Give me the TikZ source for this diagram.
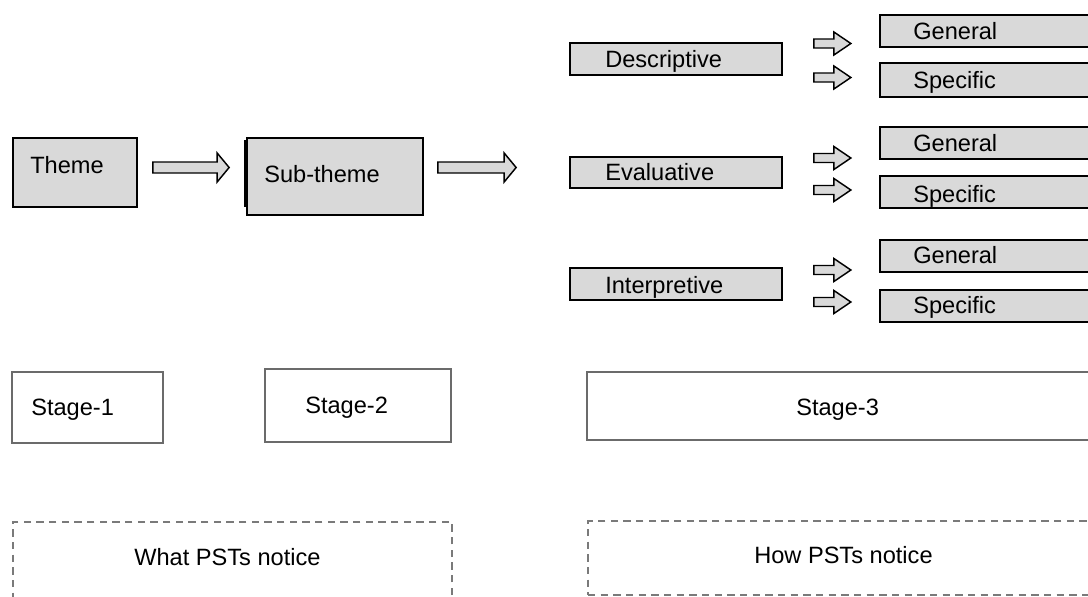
\documentclass[tikz,border=0pt]{standalone}
\usepackage{fontspec}
\setmainfont{Liberation Sans}
\usetikzlibrary{calc}
\definecolor{boxgray}{HTML}{D9D9D9}
\definecolor{edgegray}{HTML}{6B6B6B}
\definecolor{dashgray}{HTML}{7A7A7A}
\tikzset{
  graybox/.style={draw=black, line width=1.3pt, fill=boxgray, inner sep=0pt},
  stagebox/.style={draw=edgegray, line width=1.3pt, fill=white, inner sep=0pt},
  dashbox/.style={draw=dashgray, line width=1.1pt, dash pattern=on 5.5pt off 4pt, inner sep=0pt},
  lbl/.style={anchor=base west, inner sep=0pt, font=\fontsize{17.7}{21}\selectfont},
  blockarrow/.style={draw=black, line width=1.1pt, fill=boxgray, line join=miter},
  sz/.style 2 args={minimum width=#1*0.75pt, minimum height=#2*0.75pt}
}
% #1 start coord, #2 tip coord, #3 shaft half height, #4 head half height, #5 head length
\newcommand\blockarr[5]{%
  \draw[blockarrow] ($(#1)+(0,-#3)$) -- ($(#2)+(-#5,-#3)$) -- ($(#2)+(-#5,-#4)$) -- (#2)
    -- ($(#2)+(-#5,#4)$) -- ($(#2)+(-#5,#3)$) -- ($(#1)+(0,#3)$) -- cycle;}
\begin{document}
\begin{tikzpicture}[x=0.75pt, y=-0.75pt]
\useasboundingbox (0,0) rectangle (1088,596);
\clip (0,0) rectangle (1088,596);
% Stage 1 / 2 boxes
\node[graybox, sz={124}{69}] (theme) at (75,172.5) {};
\node[lbl] (themet) at (30,173) {Theme};
\node[graybox, sz={176}{77}] (sub) at (335,176.5) {};
\draw[line width=1.6pt] ($(sub.north west)+(-1.5,3)$) -- ($(sub.south west)+(-1.5,-9)$);
\node[lbl] (subt) at (264,182) {Sub-theme};
% Stage 3 categories
\node[graybox, sz={212}{32}] (desc) at (676,59) {};
\node[lbl] (desct) at (605,67) {Descriptive};
\node[graybox, sz={212}{31}] (eval) at (676,172.5) {};
\node[lbl] (evalt) at (605,180) {Evaluative};
\node[graybox, sz={212}{32}] (interp) at (676,284) {};
\node[lbl] (interpt) at (605,293) {Interpretive};
% General / Specific
\node[graybox, sz={220}{32}] (gen1) at (990,31) {};
\node[lbl] (gen1t) at (913,39) {General};
\node[graybox, sz={220}{34}] (spe1) at (990,80) {};
\node[lbl] (spe1t) at (913,88) {Specific};
\node[graybox, sz={220}{32}] (gen2) at (990,143) {};
\node[lbl] (gen2t) at (913,151) {General};
\node[graybox, sz={220}{32}] (spe2) at (990,192) {};
\node[lbl] (spe2t) at (913,202) {Specific};
\node[graybox, sz={220}{32}] (gen3) at (990,256) {};
\node[lbl] (gen3t) at (913,263) {General};
\node[graybox, sz={220}{32}] (spe3) at (990,306) {};
\node[lbl] (spe3t) at (913,313) {Specific};
% big block arrows
\coordinate (a1s) at ($(theme.east)+(15,-5)$);
\coordinate (a1e) at ($(sub.west)+(-17,-9)$);
\blockarr{a1s}{a1e}{5.5}{14.5}{12}
\coordinate (a2s) at ($(sub.east)+(14,-9)$);
\coordinate (a2e) at ($(eval.west)+(-53,-5)$);
\blockarr{a2s}{a2e}{5.5}{14.5}{12}
% small block arrows
\foreach \src/\y in {desc/43.5, desc/77.5, eval/158, eval/190, interp/270, interp/302}{
  \coordinate (ss) at ($(\src.east |- 0,\y)+(31,0)$);
  \coordinate (se) at ($(\src.east |- 0,\y)+(68,0)$);
  \blockarr{ss}{se}{4.5}{11.5}{17}
}
% stage boxes
\node[stagebox, sz={151}{71}] (st1) at (87.5,407.5) {};
\node[lbl] (st1t) at (31,415) {Stage-1};
\node[stagebox, sz={186}{73}] (st2) at (358,405.5) {};
\node[lbl] (st2t) at (305,413) {Stage-2};
\node[stagebox, sz={510}{68}] (st3) at (842,406) {};
\node[lbl] (st3t) at (796,415) {Stage-3};
% dashed boxes
\node[dashbox, sz={439}{90}] (what) at (232.5,567) {};
\node[lbl] (whatt) at (134,565) {What PSTs notice};
\node[dashbox, sz={510}{74}] (how) at (843,558) {};
\node[lbl] (howt) at (754,563) {How PSTs notice};
\end{tikzpicture}
\end{document}
